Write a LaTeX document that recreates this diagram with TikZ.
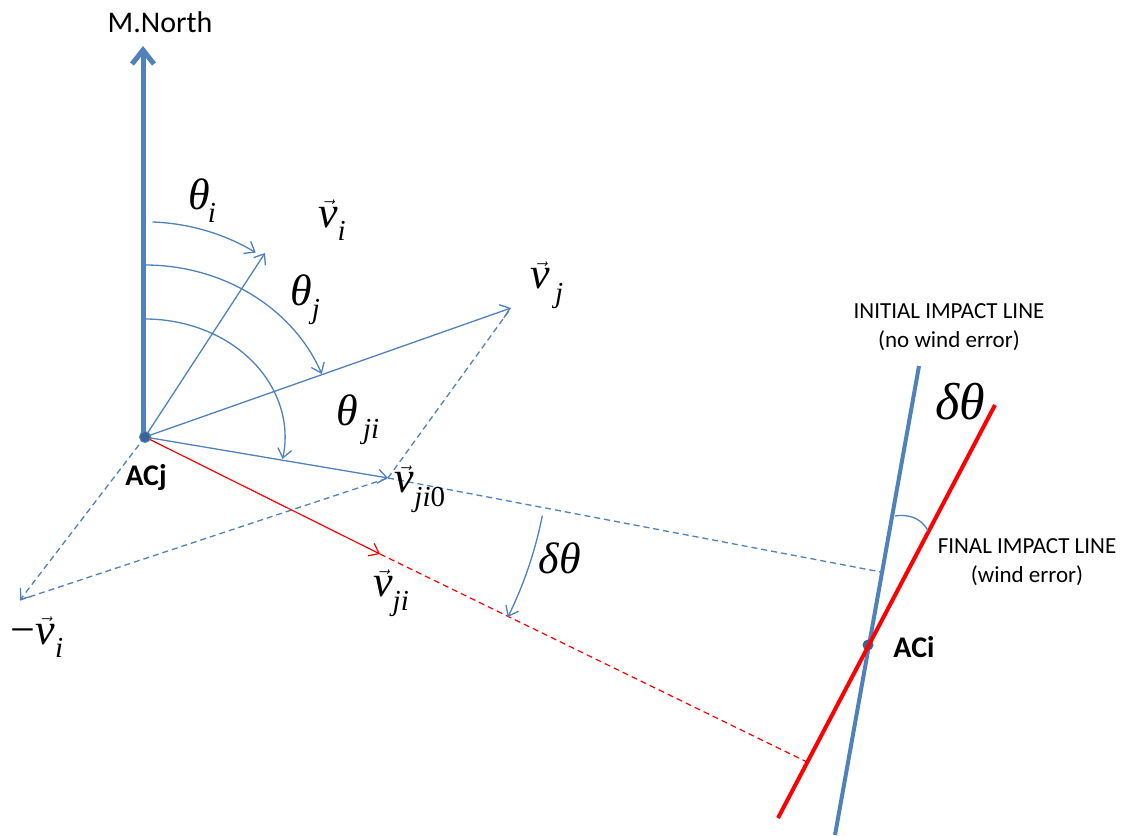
\documentclass[tikz,border=0pt]{standalone}
\usepackage{fontspec}
\setmainfont{Carlito}
\newfontfamily\tms{Liberation Serif}
\usetikzlibrary{arrows.meta}
\definecolor{ob}{HTML}{4F81BD}
\definecolor{dotb}{HTML}{3A6396}
\newcommand\mysub[1]{\raisebox{-0.3em}{\fontsize{29}{29}\selectfont\tms\itshape #1}}
\newcommand\vecv{$\vec{\hbox{\tms\itshape v}}$}
\tikzset{
  lab/.style={inner sep=0pt, font=\fontsize{44}{46}\selectfont\tms\itshape},
  txt/.style={inner sep=0pt, font=\fontsize{23}{29}\selectfont, align=center},
  thin/.style={draw=ob, line width=1.3pt},
  oarrow/.style={-{Straight Barb[length=9pt,width=14pt]}},
  dsh/.style={dash pattern=on 6pt off 4pt},
}
\begin{document}
\begin{tikzpicture}[x=1pt,y=-1pt]
\useasboundingbox (0,0) rectangle (1124,835);
% key points
\coordinate (ACj) at (145,437);
\coordinate (N0) at (143,437);
\coordinate (N) at (143,46);
\coordinate (Vi) at (265,253);
\coordinate (Vj) at (511,308);
\coordinate (Vji0) at (388,478);
\coordinate (Vji) at (380,554);
\coordinate (mVi) at (20,600);
\coordinate (B1) at (881,572);
\coordinate (R1) at (807,762);
\coordinate (IT) at (919,366);
\coordinate (IB) at (835,835);
\coordinate (FT) at (995,405);
\coordinate (FB) at (778,818);
\coordinate (ACi) at (868,645);
\coordinate (a1) at (895,516);
\coordinate (a2) at (928,531);

% dashed construction lines
\draw[thin, dsh, oarrow] (ACj) -- (mVi);
\draw[thin, dsh] (mVi) -- (Vji0);
\draw[thin, dsh] (Vji0) -- (Vj);
\draw[thin, dsh] (Vji0) -- (B1);
\draw[red, line width=1.2pt, dsh] (Vji) -- (R1);

% vectors
\draw[thin, oarrow] (ACj) -- (Vi);
\draw[thin, oarrow] (ACj) -- (Vj);
\draw[thin, oarrow] (ACj) -- (Vji0);
\draw[red, line width=1.2pt, oarrow] (ACj) -- (Vji);

% angle arcs
\draw[thin, oarrow] (ACj) ++(7.5,-215) arc[start angle=88, end angle=59, radius=215pt];
\draw[thin, oarrow] (ACj) ++(0,-172) arc[start angle=90, end angle=21.5, x radius=190pt, y radius=172pt];
\draw[thin, oarrow] (ACj) ++(0,-118) arc[start angle=90, end angle=-10.7, x radius=140pt, y radius=118pt];
\draw[thin, oarrow] (ACj) ++(397.3,78.7) arc[start angle=-11.2, end angle=-26.4, radius=405pt];

% north arrow
\draw[draw=ob, line width=5pt, -{Straight Barb[length=14pt,width=22pt]}] (N0) -- (N);
\node[inner sep=0pt, font=\fontsize{30}{32}\selectfont] (north) at (160,22) {M.North};

% impact lines
\draw[draw=ob, line width=4pt] (IT) -- (IB);
\fill[dotb] (ACi) circle (5.5pt);
\draw[red, line width=4pt] (FT) -- (FB);
\draw[thin] (a1) .. controls (907,514) and (921,517) .. (a2);

% dot ACj
\node[circle, fill=dotb, draw=ob, line width=1pt, minimum size=11pt, inner sep=0pt] (dj) at (ACj) {};

% labels
\node[inner sep=0pt, font=\fontsize{30}{32}\selectfont\bfseries] (lACj) at (146,478) {ACj};
\node[inner sep=0pt, font=\fontsize{30}{32}\selectfont\bfseries] (lACi) at (914,647) {ACi};
\node[txt] (init) at (949,327) {INITIAL IMPACT LINE\\(no wind error)};
\node[txt] (fin) at (1027,562) {FINAL IMPACT LINE\\(wind error)};

\node[lab] (thi) at (202,201) {θ\kern-2pt\mysub{i}};
\node[lab] (vi) at (332,220) {\vecv\mysub{i}};
\node[lab] (thj) at (305,300) {θ\mysub{j}};
\node[lab] (vj) at (547,285) {\vecv\mysub{\,j}};
\node[lab] (thji) at (358,420) {θ\mysub{\,ji}};
\node[lab] (vji0) at (420,489) {\vecv\mysub{ji{\upshape 0}}};
\node[lab] (vji) at (391,593) {\vecv\mysub{ji}};
\node[lab] (mvi) at (37,637) {{\upshape −}\vecv\mysub{i}};
\node[lab] (dt1) at (560,558) {δθ};
\node[lab, font=\fontsize{52}{54}\selectfont\tms\itshape] (dt2) at (960,402) {δθ};
\end{tikzpicture}
\end{document}
